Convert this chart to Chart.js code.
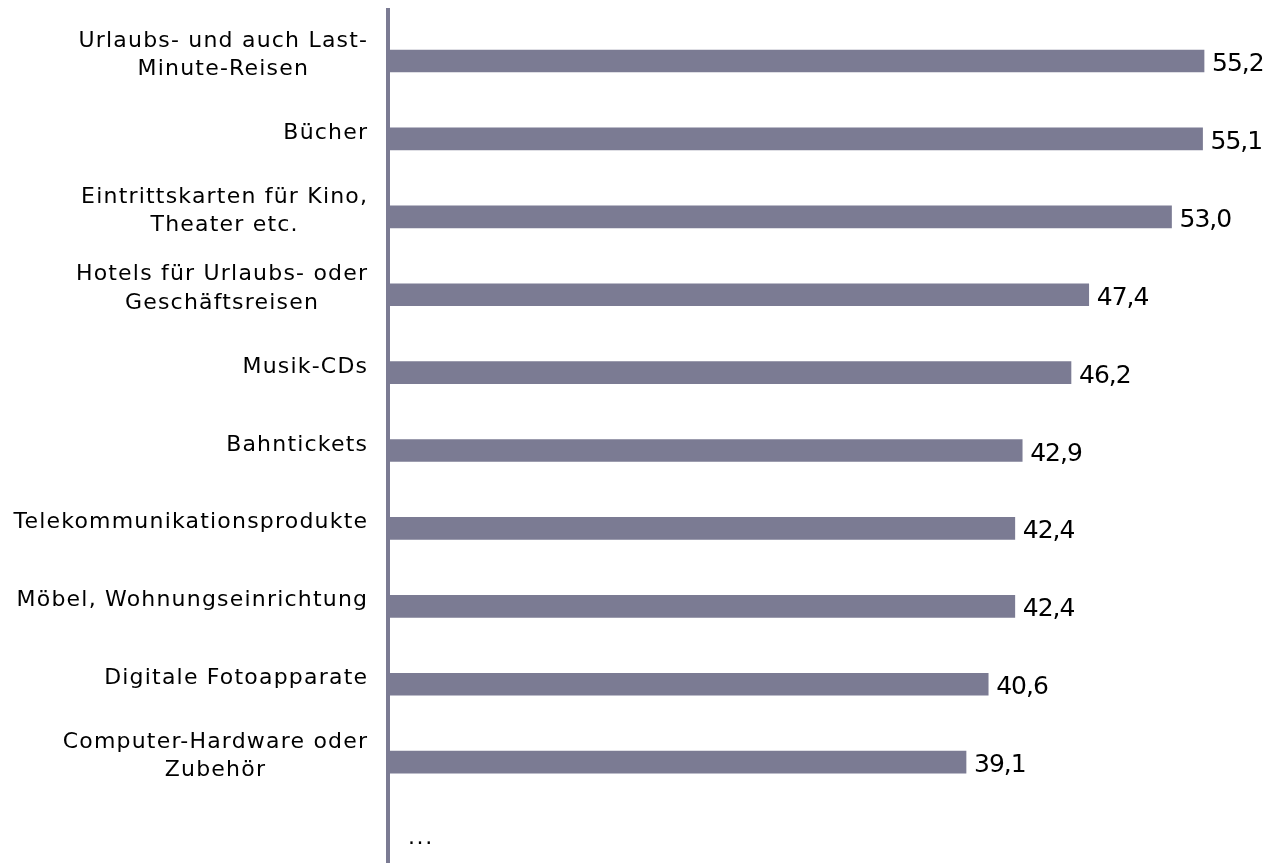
<!DOCTYPE html>
<html lang="de">
<head>
<meta charset="utf-8">
<title>Online gekaufte Produkte</title>
<script src="https://cdn.jsdelivr.net/npm/chart.js@4.4.1/dist/chart.umd.min.js"></script>
<style>
  html, body { margin: 0; padding: 0; background: #ffffff; overflow: hidden; }
  #wrap { position: relative; width: 1281px; height: 863px; }
</style>
</head>
<body>
<div id="wrap"><canvas id="chart"></canvas></div>
<script>
// Produktkategorien (Zeilenumbrüche wie in der Beschriftung)
const categories = [
  ['Urlaubs- und auch Last-', 'Minute-Reisen'],
  ['Bücher'],
  ['Eintrittskarten für Kino,', 'Theater etc.'],
  ['Hotels für Urlaubs- oder', 'Geschäftsreisen'],
  ['Musik-CDs'],
  ['Bahntickets'],
  ['Telekommunikationsprodukte'],
  ['Möbel, Wohnungseinrichtung'],
  ['Digitale Fotoapparate'],
  ['Computer-Hardware oder', 'Zubehör']
];

// Anteile in Prozent
const shares = [55.2, 55.1, 53.0, 47.4, 46.2, 42.9, 42.4, 42.4, 40.6, 39.1];

// Hinweis auf weitere, nicht aufgeführte Kategorien
const moreLabel = '...';

// Wertebereich der Werteachse
const valueMin = 0;
const valueMax = 60;

const BAR_COLOR = '#7b7b93';
const TEXT_COLOR = '#000000';

// Kategorienbeschriftung: Zeilen zentriert, Block rechtsbündig an der Achse
const categoryLabels = {
  id: 'categoryLabels',
  afterDraw(chart) {
    const ctx = chart.ctx;
    const yScale = chart.scales.y;
    const right = chart.chartArea.left - 21;
    const lineHeight = 28.5;
    const ls = 1.2;
    ctx.save();
    ctx.font = '22px "DejaVu Sans"';
    ctx.letterSpacing = ls + 'px';
    ctx.fillStyle = TEXT_COLOR;
    ctx.textAlign = 'left';
    ctx.textBaseline = 'alphabetic';
    categories.forEach((lines, i) => {
      const c = yScale.getPixelForValue(i);
      const widths = lines.map(l => ctx.measureText(l).width - ls);
      const block = Math.max(...widths);
      const mid = right - block / 2;
      lines.forEach((line, k) => {
        const y = c + (k - (lines.length - 1) / 2) * lineHeight;
        ctx.fillText(line, mid - widths[k] / 2, y);
      });
    });
    // Auslassungspunkte unterhalb der letzten Kategorie
    ctx.letterSpacing = '1.6px';
    const yMore = yScale.getPixelForValue(categories.length);
    ctx.fillText(moreLabel, chart.chartArea.left + 20, yMore + 4);
    ctx.restore();
  }
};

// Wertbeschriftung rechts neben jedem Balken
const valueLabels = {
  id: 'valueLabels',
  afterDatasetsDraw(chart) {
    const ctx = chart.ctx;
    const meta = chart.getDatasetMeta(0);
    ctx.save();
    ctx.font = '25px "DejaVu Sans"';
    ctx.letterSpacing = '-1px';
    ctx.fillStyle = TEXT_COLOR;
    ctx.textAlign = 'left';
    ctx.textBaseline = 'alphabetic';
    meta.data.forEach((bar, i) => {
      const txt = shares[i].toFixed(1).replace('.', ',');
      ctx.fillText(txt, bar.x + 8, bar.y + 10);
    });
    ctx.restore();
  }
};

new Chart(document.getElementById('chart'), {
  type: 'bar',
  data: {
    datasets: [{
      data: shares.map((v, i) => ({ x: v, y: i })),
      backgroundColor: BAR_COLOR,
      borderWidth: 0,
      barThickness: 22
    }]
  },
  options: {
    indexAxis: 'y',
    responsive: true,
    maintainAspectRatio: false,
    devicePixelRatio: 1,
    animation: false,
    layout: { padding: { top: 10, right: 6, bottom: 0, left: 0 } },
    plugins: {
      legend: { display: false },
      tooltip: { enabled: false }
    },
    scales: {
      x: {
        type: 'linear',
        display: false,
        min: valueMin,
        max: valueMax
      },
      y: {
        type: 'linear',
        reverse: true,
        offset: false,
        min: -0.655,
        max: 10.295,
        z: 1,
        grid: { display: false, offset: false },
        border: { display: true, color: BAR_COLOR, width: 4 },
        ticks: { display: false },
        afterFit(scale) { scale.width = 388; }
      }
    }
  },
  plugins: [categoryLabels, valueLabels]
});
</script>
</body>
</html>
